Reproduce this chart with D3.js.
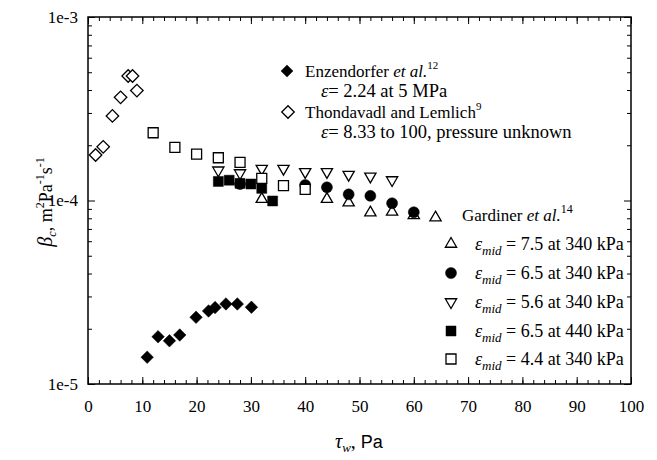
<!DOCTYPE html>
<html><head><meta charset="utf-8">
<script src="https://cdn.jsdelivr.net/npm/d3@7/dist/d3.min.js"></script>
<style>
body{margin:0;background:#fff;}
</style></head>
<body><svg id="c" width="657" height="460"></svg>
<script>
// ---- data ----
const xTicks = [0,10,20,30,40,50,60,70,80,90,100];
const yTickLabels = ["1e-5","1e-4","1e-3"];
const yTickValues = [1e-5,1e-4,1e-3];

const thonX = [1.4, 2.8, 4.5, 6.0, 7.4, 8.2, 9.0];
const thonY = [1.77e-4, 1.96e-4, 2.89e-4, 3.65e-4, 4.77e-4, 4.77e-4, 3.97e-4];
const enzX = [10.9, 12.9, 15.0, 16.9, 19.9, 22.2, 23.4, 25.4, 27.5, 30.1];
const enzY = [1.40e-5, 1.81e-5, 1.72e-5, 1.85e-5, 2.31e-5, 2.50e-5, 2.61e-5, 2.73e-5, 2.73e-5, 2.62e-5];
const upX = [32, 44, 48, 52, 56, 60, 64];
const upY = [1.03e-4, 1.03e-4, 9.85e-5, 8.69e-5, 8.77e-5, 8.41e-5, 8.16e-5];
const circX = [28, 40, 44, 48, 52, 56, 60];
const circY = [1.23e-4, 1.215e-4, 1.18e-4, 1.08e-4, 1.06e-4, 9.66e-5, 8.63e-5];
const downX = [24, 28, 32, 36, 40, 44, 48, 52, 56];
const downY = [1.48e-4, 1.43e-4, 1.51e-4, 1.51e-4, 1.45e-4, 1.45e-4, 1.40e-4, 1.37e-4, 1.31e-4];
const fsqX = [24, 26, 28, 30, 32, 34];
const fsqY = [1.27e-4, 1.29e-4, 1.24e-4, 1.23e-4, 1.165e-4, 9.94e-5];
const osqX = [12, 16, 20, 24, 28, 32, 36, 40];
const osqY = [2.34e-4, 1.95e-4, 1.79e-4, 1.71e-4, 1.615e-4, 1.32e-4, 1.205e-4, 1.15e-4];

const gardLabels = ["7.5 at 340 kPa","6.5 at 340 kPa","5.6 at 340 kPa","6.5 at 440 kPa","4.4 at 340 kPa"];

// ---- layout ----
const SERIF = '"Liberation Serif", Tinos, "Times New Roman", Times, serif';
const SANS = '"Liberation Sans", Arimo, Arial, sans-serif';
const L=88, R=631, T=17, B=384;
const svg = d3.select("#c");
const x = d3.scaleLinear().domain([0,100]).range([L,R]);
const y = d3.scaleLog().domain([1e-5,1e-3]).range([B,T]);

const xMinor = d3.range(0,101,2);
const yMinor = [];
[1e-5,1e-4].forEach(d=>{for(let k=2;k<=9;k++) yMinor.push(d*k);});

svg.append("g").attr("transform",`translate(0,${B})`).call(d3.axisBottom(x).tickValues(xMinor).tickSize(-4).tickFormat(""));
svg.append("g").attr("transform",`translate(0,${T})`).call(d3.axisTop(x).tickValues(xMinor).tickSize(-4).tickFormat(""));
svg.append("g").attr("transform",`translate(0,${B})`)
  .call(d3.axisBottom(x).tickValues(xTicks).tickSize(-7).tickPadding(16).tickFormat(d3.format("d")));
svg.append("g").attr("transform",`translate(0,${T})`)
  .call(d3.axisTop(x).tickValues(xTicks).tickSize(-7).tickFormat(""));
svg.append("g").attr("transform",`translate(${L},0)`)
  .call(d3.axisLeft(y).tickValues(yMinor).tickSize(-4).tickFormat(""));
svg.append("g").attr("transform",`translate(${R},0)`)
  .call(d3.axisRight(y).tickValues(yMinor).tickSize(-4).tickFormat(""));
svg.append("g").attr("transform",`translate(${L},0)`)
  .call(d3.axisLeft(y).tickValues(yTickValues).tickSize(-7).tickPadding(10).tickFormat((d,i)=>yTickLabels[i]));
svg.append("g").attr("transform",`translate(${R},0)`)
  .call(d3.axisRight(y).tickValues(yTickValues).tickSize(-7).tickFormat(""));
svg.selectAll(".domain").remove();
svg.selectAll("g").attr("font-family",null).attr("font-size",null);
svg.selectAll(".tick line").attr("stroke","#000").attr("stroke-width",1);
svg.selectAll(".tick text").attr("font-size",17).attr("fill","#000");
svg.append("rect").attr("x",L).attr("y",T).attr("width",R-L).attr("height",B-T)
  .attr("fill","none").attr("stroke","#000").attr("stroke-width",1.5);

// markers
const sq = d3.symbol(d3.symbolSquare, 100)();
const dia = d3.symbol(d3.symbolSquare, 78)();
const tri = d3.symbol(d3.symbolTriangle, 55)();
const circ = d3.symbol(d3.symbolCircle, 95)();

function draw(xs, ys, path, fill, rot, dy){
  svg.append("g").selectAll("path").data(xs).join("path")
    .attr("d", path)
    .attr("transform",(d,i)=>`translate(${x(d)},${y(ys[i])+(dy||0)}) rotate(${rot||0})`)
    .attr("fill", fill).attr("stroke","#000").attr("stroke-width", fill==="#000"?0.5:1.3);
}
draw(thonX, thonY, dia, "#fff", 45);
draw(enzX, enzY, dia, "#000", 45);
draw(upX, upY, tri, "#fff", 0, 1);
draw(circX, circY, circ, "#000");
draw(downX, downY, tri, "#fff", 180, 1);
draw(fsqX, fsqY, sq, "#000");
draw(osqX, osqY, sq, "#fff");

// legend 1
svg.append("path").attr("d",dia).attr("transform","translate(287,71) rotate(45)").attr("fill","#000");
svg.append("path").attr("d",dia).attr("transform","translate(288,112) rotate(45)").attr("fill","#fff").attr("stroke","#000").attr("stroke-width",1.3);
let t = svg.append("text").attr("x",305).attr("y",77).attr("font-size",17);
t.append("tspan").text("Enzendorfer ");
t.append("tspan").attr("font-style","italic").text("et al.");
t.append("tspan").attr("font-size",11).attr("dy",-8).text("12");
t = svg.append("text").attr("x",321).attr("y",97).attr("font-size",18.5);
t.append("tspan").attr("font-style","italic").text("ε");
t.append("tspan").text("= 2.24 at 5 MPa");
t = svg.append("text").attr("x",305).attr("y",118).attr("font-size",17);
t.append("tspan").text("Thondavadl and Lemlich");
t.append("tspan").attr("font-size",11).attr("dy",-8).text("9");
t = svg.append("text").attr("x",321).attr("y",138).attr("font-size",18.5);
t.append("tspan").attr("font-style","italic").text("ε");
t.append("tspan").text("= 8.33 to 100, pressure unknown");

// legend 2
t = svg.append("text").attr("x",462).attr("y",221).attr("font-size",17);
t.append("tspan").text("Gardiner ");
t.append("tspan").attr("font-style","italic").text("et al.");
t.append("tspan").attr("font-size",12).attr("dy",-8).text("14");

const legSyms = [[tri,"#fff",0],[circ,"#000",0],[tri,"#fff",180],[sq,"#000",0],[sq,"#fff",0]];
const rowY = [250, 279, 308, 337, 365];
gardLabels.forEach((lab,i)=>{
  const [p,f,r] = legSyms[i];
  svg.append("path").attr("d",p).attr("transform",`translate(451,${rowY[i]-6}) rotate(${r})`)
    .attr("fill",f).attr("stroke","#000").attr("stroke-width",f==="#000"?0.5:1.3);
  const tt = svg.append("text").attr("x",475).attr("y",rowY[i]).attr("font-size",18);
  tt.append("tspan").attr("font-style","italic").text("ε");
  tt.append("tspan").attr("font-style","italic").attr("font-size",13).attr("dy",5).text("mid");
  tt.append("tspan").attr("dy",-5).text(" = "+lab);
});

// axis titles
t = svg.append("text").attr("x",335).attr("y",448).attr("font-size",20);
t.append("tspan").attr("font-style","italic").text("τ");
t.append("tspan").attr("font-style","italic").attr("font-size",13).attr("dy",4).text("w");
t.append("tspan").attr("dy",-4).text(",");
t.append("tspan").attr("class","sans").attr("font-size",18).text("  Pa");

t = svg.append("text").attr("transform","translate(52,202) rotate(-90)").attr("text-anchor","middle").attr("font-size",18);
t.append("tspan").attr("font-style","italic").attr("font-size",20).text("β");
t.append("tspan").attr("font-style","italic").attr("font-size",12).attr("dy",4).text("c");
t.append("tspan").attr("dy",-4).text(", m");
t.append("tspan").attr("font-size",12).attr("dy",-8).text("2");
t.append("tspan").attr("dy",8).text("Pa");
t.append("tspan").attr("font-size",12).attr("dy",-8).text("-1");
t.append("tspan").attr("dy",8).text("s");
t.append("tspan").attr("font-size",12).attr("dy",-8).text("-1");

// apply fonts inline
svg.selectAll("text").style("font-family", SERIF).attr("fill","#000");
svg.selectAll("tspan.sans").style("font-family", SANS);
</script></body></html>
